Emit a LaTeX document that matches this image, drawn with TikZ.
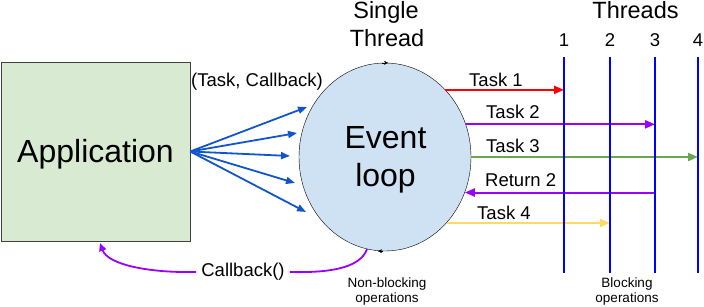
\documentclass[tikz,border=0pt]{standalone}
\usepackage{fontspec}
\setmainfont{Liberation Sans}
\usetikzlibrary{arrows.meta,shapes.geometric}

\definecolor{appgreen}{HTML}{D9EAD3}
\definecolor{evblue}{HTML}{CFE2F3}
\definecolor{callblue}{HTML}{1155CC}
\definecolor{thrblue}{HTML}{0000FF}
\definecolor{tred}{HTML}{FF0000}
\definecolor{tpurple}{HTML}{9900FF}
\definecolor{tgreen}{HTML}{6AA84F}
\definecolor{tyellow}{HTML}{FFD966}

\begin{document}
\begin{tikzpicture}[>={Triangle[length=10pt,width=8pt]}, x=1pt, y=-1pt,
  bigtxt/.style={font=\fontsize{32}{38}\selectfont},
  hdr/.style={font=\fontsize{23.5}{28}\selectfont},
  lbl/.style={font=\fontsize{18.5}{22}\selectfont},
  small/.style={font=\fontsize{13.5}{14.5}\selectfont, align=center},
  taskline/.style={line width=2pt, ->},
  callarrow/.style={line width=1.8pt, callblue, -{Triangle[length=9pt,width=7pt]}},
  cbline/.style={line width=1.8pt, tpurple}]
  \useasboundingbox (0,0) rectangle (704,307);

  % application and event loop
  \node[draw=black!75, fill=appgreen, minimum width=189pt, minimum height=179pt,
        inner sep=0pt] (app) at (95.5,151.5) {};
  \node[bigtxt, anchor=base] (apptxt) at (95.5,163) {Application};
  \node[ellipse, draw, fill=evblue, minimum width=172pt, minimum height=188pt,
        inner sep=0pt] (ev) at (385,157) {};
  \node[bigtxt, align=center] (evtxt) at (385.5,160) {Event\\loop};
  \draw[-{Stealth[length=4pt,width=4pt]}] ([xshift=-3pt]ev.north) -- ([xshift=3pt]ev.north);
  \draw[-{Stealth[length=4pt,width=4pt]}] ([xshift=-2pt]ev.south) -- ([xshift=-7pt]ev.south);

  \node[hdr, anchor=base] (single) at (386,19) {Single};
  \node[hdr, anchor=base] (thread) at (387,47) {Thread};
  \node[hdr, anchor=base] (threads) at (635.5,19) {Threads};

  % tasks handed to the loop
  \node[lbl, anchor=base west, inner sep=0pt] (tcb) at (191,87) {(Task, Callback)};
  \foreach \k/\tx/\ty in {1/307/107, 2/297/133, 3/290/156, 4/295/183, 5/306/212} {
    \coordinate (in\k) at (\tx,\ty);
    \draw[callarrow] (app.east) -- (in\k);
  }

  % callback back to the application
  \coordinate (cbend) at (100,243);
  \node[lbl, inner xsep=5pt] (cb) at (243,272) {Callback()};
  \draw[cbline] (ev.259) .. controls (360,268) and (330,273) .. (cb.east);
  \draw[cbline, -{Triangle[length=8pt,width=7pt]}] (cb.west) .. controls (150,273) and (108,265) .. (cbend);
  \node[small] (nonblk) at (387,291.5) {Non-blocking\\operations};

  % worker threads
  \foreach \i/\x in {1/564, 2/610, 3/655, 4/698} {
    \coordinate (th\i) at (\x,57);
    \coordinate (thb\i) at (\x,273);
    \node[lbl, anchor=base] (num\i) at (\x,47) {\i};
  }

  \draw[taskline, tred] (ev.48) -- (ev.48 -| th1);
  \draw[taskline, tpurple] (ev.22) -- (ev.22 -| th3);
  \draw[taskline, tgreen] (ev.0) -- (ev.0 -| th4);
  \draw[taskline, tpurple] (ev.-24 -| th3) -- (ev.-24);
  \draw[taskline, tyellow] (ev.-47) -- (ev.-47 -| th2);

  \node[lbl, anchor=base west, inner sep=0pt] (t1) at (469,87) {Task 1};
  \node[lbl, anchor=base west, inner sep=0pt] (t2) at (486,119) {Task 2};
  \node[lbl, anchor=base west, inner sep=0pt] (t3) at (486,153) {Task 3};
  \node[lbl, anchor=base west, inner sep=0pt] (r2) at (485,187) {Return 2};
  \node[lbl, anchor=base west, inner sep=0pt] (t4) at (477,220) {Task 4};

  \foreach \i in {1,...,4}
    \draw[line width=2pt, thrblue] (th\i) -- (thb\i);

  \node[small] (blk) at (627,291.5) {Blocking\\operations};
\end{tikzpicture}
\end{document}
